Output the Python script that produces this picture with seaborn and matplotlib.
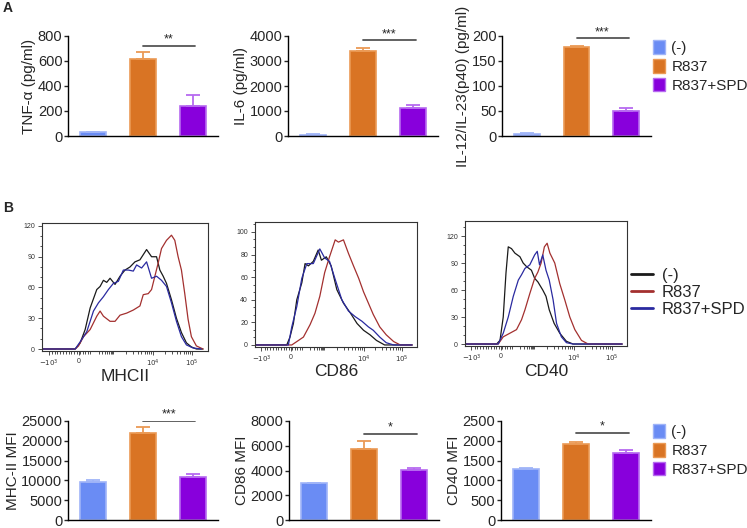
import numpy as np
import pandas as pd
import matplotlib
matplotlib.use("Agg")
import matplotlib.pyplot as plt
from matplotlib.patches import Patch
from matplotlib.lines import Line2D
from matplotlib.ticker import AutoMinorLocator
import seaborn as sns

sns.set_style("ticks")
plt.rcParams["font.family"] = ["Liberation Sans", "DejaVu Sans"]

# groups / colours
groups = ["(-)", "R837", "R837+SPD"]
bar_colors = ["#6a8cf4", "#d97424", "#8800dc"]
edge_colors = ["#9fb4f8", "#eb9a55", "#b66af0"]
line_colors = ["#1a1a1a", "#a3302f", "#2a2aa0"]

# panel A: cytokines
tnf_vals = [30, 615, 240]
tnf_err = [3, 60, 85]
il6_vals = [60, 3380, 1130]
il6_err = [10, 130, 110]
il12_vals = [5, 177, 49]
il12_err = [1, 3, 7]

# panel B: histograms (x in display channel 0-100, y = count)
mhc_neg_x = [0, 20, 23, 26, 29, 33, 35, 37, 39, 41, 44, 47, 50, 53, 56, 59, 63, 66, 69, 71, 73, 75, 78, 81, 84, 87, 90, 93, 97]
mhc_neg_y = [0, 0, 6, 19, 40, 58, 61, 67, 65, 69, 63, 71, 77, 80, 85, 87, 97, 90, 90, 77, 71, 64, 48, 30, 16, 6, 2, 0, 0]
mhc_r_x = [0, 20, 22, 25, 29, 33, 35, 37, 41, 44, 47, 51, 55, 59, 61, 64, 66, 68, 70, 72, 75, 78, 80, 82, 84, 86, 88, 90, 93, 97]
mhc_r_y = [0, 0, 3, 12, 19, 32, 37, 32, 27, 27, 33, 35, 38, 42, 53, 54, 58, 71, 84, 98, 106, 111, 106, 90, 77, 54, 29, 12, 3, 0]
mhc_spd_x = [0, 20, 23, 27, 31, 34, 37, 40, 43, 46, 49, 52, 55, 57, 60, 63, 66, 69, 72, 75, 78, 81, 84, 87, 91, 96]
mhc_spd_y = [0, 0, 7, 17, 37, 45, 51, 58, 64, 66, 77, 77, 76, 82, 79, 85, 69, 71, 67, 61, 45, 27, 12, 4, 1, 0]

cd86_neg_x = [0, 19.6, 21.6, 23.7, 25.8, 28.9, 30.9, 33, 36, 39, 41, 44, 47, 50.5, 54.6, 59, 63, 67, 71, 75, 80, 97]
cd86_neg_y = [0, 0, 7, 19, 40, 55, 72, 70, 74, 84, 75, 78, 70, 49, 37, 28, 19, 13, 9, 4, 0, 0]
cd86_r_x = [0, 22.7, 25.8, 29.9, 34, 37, 40, 43, 46, 49.5, 51.5, 54.6, 57.7, 60.8, 64, 67, 70, 73, 77, 81, 85.6, 89.7, 97]
cd86_r_y = [0, 0, 3, 7, 18, 28, 43, 64, 78, 93, 91, 93, 81, 70, 59, 47, 37, 27, 16, 9, 3, 0, 0]
cd86_spd_x = [0, 20.6, 22.7, 25.8, 28.9, 32, 36, 40, 43, 46, 49.5, 53.6, 57.7, 61.9, 66, 70, 73, 77, 81, 85.6, 97]
cd86_spd_y = [0, 0, 16, 34, 59, 72, 72, 85, 77, 74, 58, 40, 30, 25, 21, 16, 13, 7, 2, 0, 0]

cd40_neg_x = [0, 19.5, 21.6, 23.6, 25.3, 26.7, 28.7, 30.8, 33.9, 35.9, 38, 41, 43, 45, 48, 50, 52, 55, 58.5, 62.6, 66.7, 97]
cd40_neg_y = [0, 0, 4, 30, 79, 108, 106, 101, 97, 90, 86, 82, 73, 69, 60, 53, 38, 23, 12, 3, 0, 0]
cd40_r_x = [0, 20.5, 23.6, 27.7, 31.8, 34.9, 37, 40, 43, 45, 47, 49, 50.7, 52.4, 55.4, 58.5, 61.6, 64.7, 67.8, 71.9, 76, 97]
cd40_r_y = [0, 0, 8, 12, 16, 27, 38, 56, 73, 80, 90, 108, 112, 101, 90, 67, 49, 30, 16, 4, 0, 0]
cd40_spd_x = [0, 20.5, 23.6, 26.7, 29.8, 32.9, 34.9, 37, 40, 43, 44.6, 46, 48, 50, 52, 54.4, 56.5, 59.5, 62.6, 66.7, 97]
cd40_spd_y = [0, 0, 12, 30, 53, 71, 77, 84, 88, 99, 103, 88, 99, 82, 71, 49, 23, 8, 1.5, 0, 0]

hist_tick_labels = ["$-10^3$", "0", "$10^4$", "$10^5$"]

# panel C: MFI
mhc_vals = [9700, 22000, 10800]
mhc_err = [400, 1400, 700]
cd86_vals = [2950, 5750, 4030]
cd86_err = [30, 650, 200]
cd40_vals = [1290, 1930, 1700]
cd40_err = [25, 50, 60]

W, H = 747, 528
fig = plt.figure(figsize=(W / 100, H / 100), dpi=100)


def px(left, top, right, bottom):
    return [left / W, 1 - bottom / H, (right - left) / W, (bottom - top) / H]


def bar_panel(rect, vals, errs, ymax, step, ylabel, sig_y, stars):
    ax = fig.add_axes(rect)
    df = pd.DataFrame({"group": groups, "value": vals})
    sns.barplot(data=df, x="group", y="value", hue="group", palette=bar_colors,
                saturation=1, width=0.52, ax=ax, legend=False, linewidth=1.2)
    for p, ec in zip(ax.patches, edge_colors):
        p.set_edgecolor(ec)
    for i in range(3):
        ax.errorbar(i, vals[i], yerr=[[0], [errs[i]]], fmt="none", ecolor=edge_colors[i],
                    elinewidth=1.3, capsize=5, capthick=1.3, zorder=1)
    ax.plot([1.0, 2.05], [sig_y, sig_y], color="#555555", lw=1.3)
    ax.text(1.52, sig_y + ymax * 0.005, stars, ha="center", va="bottom", fontsize=9)
    ax.set_xlim(-0.5, 2.5)
    ax.set_ylim(0, ymax)
    ax.set_yticks(np.arange(0, ymax + 1, step))
    ax.set_xlabel("")
    ax.set_ylabel(ylabel, fontsize=11, labelpad=1)
    ax.tick_params(axis="x", length=0, labelbottom=False)
    ax.tick_params(axis="y", labelsize=10.5, length=3, width=1, pad=1)
    for s in ["top", "right"]:
        ax.spines[s].set_visible(False)
    for s in ["left", "bottom"]:
        ax.spines[s].set_linewidth(1)
        ax.spines[s].set_color("black")
    return ax


def hist_panel(rect, curves, ylim, ystep, xlabel):
    ax = fig.add_axes(rect)
    rows = []
    for name, (xs, ys) in zip(groups, curves):
        rows.append(pd.DataFrame({"x": xs, "y": ys, "g": name}))
    df = pd.concat(rows)
    sns.lineplot(data=df, x="x", y="y", hue="g", palette=line_colors, sort=False,
                 estimator=None, lw=0.9, legend=False, ax=ax)
    ax.set_xlim(0, 100)
    ax.set_ylim(*ylim)
    ax.set_yticks(np.arange(0, ylim[1], ystep))
    ax.yaxis.set_minor_locator(AutoMinorLocator(3))
    ax.set_xticks([4, 22, 67, 90.5])
    ax.set_xticklabels(hist_tick_labels)
    minor = []
    for d0, w in [(30, 13.5), (43.5, 23.5), (67, 23.5)]:
        minor += [d0 + w * np.log10(k) for k in range(2, 10)]
    minor += list(np.linspace(6, 21, 10)) + list(np.linspace(23, 29, 5))
    ax.set_xticks(minor, minor=True)
    ax.tick_params(which="both", direction="out", width=0.6, colors="#333333",
                   labelsize=5, pad=2)
    ax.tick_params(which="major", length=3)
    ax.tick_params(which="minor", length=1.8)
    for s in ax.spines.values():
        s.set_linewidth(0.8)
        s.set_color("#333333")
    ax.set_xlabel(xlabel, fontsize=12.5)
    ax.xaxis.set_label_coords(0.5, -0.14)
    ax.set_ylabel("")
    return ax


# row A
bar_panel(px(68, 36, 218, 136), tnf_vals, tnf_err, 800, 200, "TNF-\u03b1 (pg/ml)", 720, "**")
bar_panel(px(288, 36, 438, 136), il6_vals, il6_err, 4000, 1000, "IL-6 (pg/ml)", 3820, "***")
bar_panel(px(502, 36, 651, 136), il12_vals, il12_err, 200, 50, "IL-12/IL-23(p40) (pg/ml)", 195, "***")

# row B
hist_panel(px(42, 223, 208, 351), [(mhc_neg_x, mhc_neg_y), (mhc_r_x, mhc_r_y), (mhc_spd_x, mhc_spd_y)],
           (-1.95, 122.9), 30, "MHCII")
hist_panel(px(255, 222, 417, 347), [(cd86_neg_x, cd86_neg_y), (cd86_r_x, cd86_r_y), (cd86_spd_x, cd86_spd_y)],
           (-1.8, 108.8), 20, "CD86")
hist_panel(px(465, 221, 627, 346), [(cd40_neg_x, cd40_neg_y), (cd40_r_x, cd40_r_y), (cd40_spd_x, cd40_spd_y)],
           (-2.2, 136.7), 30, "CD40")

# row C
bar_panel(px(68, 421, 218, 520), mhc_vals, mhc_err, 25000, 5000, "MHC-II MFI", 25000, "***")
bar_panel(px(289, 421, 439, 520), cd86_vals, cd86_err, 8000, 2000, "CD86 MFI", 6930, "*")
bar_panel(px(501, 421, 651, 520), cd40_vals, cd40_err, 2500, 500, "CD40 MFI", 2200, "*")

# legends
patches = [Patch(facecolor=c, edgecolor=e, lw=1) for c, e in zip(bar_colors, edge_colors)]
for top in [40, 424]:
    fig.legend(patches, groups, loc="upper left", bbox_to_anchor=(653 / W, 1 - top / H),
               frameon=False, fontsize=11, handlelength=0.8, handleheight=1.0,
               handletextpad=0.4, labelspacing=0.25, borderpad=0, borderaxespad=0)
lines = [Line2D([], [], color=c, lw=2) for c in line_colors]
fig.legend(lines, groups, loc="upper left", bbox_to_anchor=(631 / W, 1 - 268 / H),
           frameon=False, fontsize=12, handlelength=1.3, handletextpad=0.55,
           labelspacing=0.12, borderpad=0, borderaxespad=0)

fig.text(3 / W, 1 - 8 / H, "A", fontweight="bold", fontsize=10, va="center")
fig.text(3 / W, 1 - 208 / H, "B", fontweight="bold", fontsize=10, va="center")

fig.savefig("out.png", dpi=100)
